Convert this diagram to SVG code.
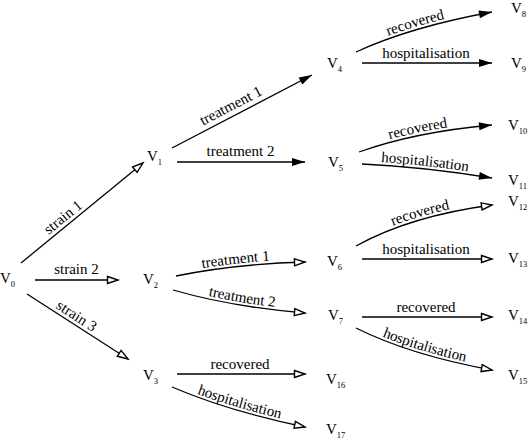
<svg xmlns="http://www.w3.org/2000/svg" width="528" height="442" viewBox="0 0 528 442">
<style>
.n{font-family:"Liberation Serif","Times New Roman",serif;font-size:15px;fill:#000}
.s{font-size:8.5px}
.l{font-family:"Liberation Serif","Times New Roman",serif;font-size:15px;fill:#000}
.c{text-anchor:middle}
.e{fill:none;stroke:#000;stroke-width:1.3}
.h{marker-end:url(#hollow)}
.f{marker-end:url(#solid)}
</style>
<defs>
<marker id="solid" markerUnits="userSpaceOnUse" viewBox="0 0 14 10" markerWidth="14" markerHeight="10" refX="13" refY="5" orient="auto" overflow="visible">
<path d="M0,1 L13,5 L0,9 z" fill="#000"/>
</marker>
<marker id="hollow" markerUnits="userSpaceOnUse" viewBox="0 0 13 10" markerWidth="13" markerHeight="10" refX="11.5" refY="5" orient="auto" overflow="visible">
<path d="M1,1.5 L11.5,5 L1,8.5 z" fill="#fff" stroke="#000" stroke-width="1.4" stroke-linejoin="miter"/>
</marker>
</defs>
<g id="connectors">
<path id="e1" class="e h" d="M21,263 L143,163"/>
<path id="e2" class="e h" d="M35,280 L118,280"/>
<path id="e3" class="e h" d="M27,294 L128,359"/>
<path id="e4" class="e f" d="M172,148 L312,75"/>
<path id="e5" class="e f" d="M177,162 L305,162"/>
<path id="e6" class="e h" d="M176,276 Q235,264 305,262"/>
<path id="e7" class="e h" d="M173,290 Q232,307 305,313"/>
<path id="e8" class="e h" d="M177,374 L305,374"/>
<path id="e9" class="e h" d="M172,387 Q228,411 305,427"/>
<path id="e10" class="e f" d="M356,52 Q410,27 492,12"/>
<path id="e11" class="e f" d="M362,63 L492,63"/>
<path id="e12" class="e f" d="M359,152 Q415,132 492,125"/>
<path id="e13" class="e f" d="M362,164 Q425,167 492,178"/>
<path id="e14" class="e h" d="M356,246 Q410,216 492,205"/>
<path id="e15" class="e h" d="M362,259 L492,259"/>
<path id="e16" class="e h" d="M362,317 L492,317"/>
<path id="e17" class="e h" d="M356,328 Q410,355 492,370"/>
<text class="l c" transform="translate(66,221) rotate(-39.3)">strain 1</text>
<text class="l c" x="76.5" y="274">strain 2</text>
<text class="l c" transform="translate(74,320) rotate(33)">strain 3</text>
<text class="l c" transform="translate(233,110) rotate(-27.5)">treatment 1</text>
<text class="l c" x="240.5" y="156">treatment 2</text>
<text class="l c"><textPath href="#e6" startOffset="47%"><tspan dy="-3">treatment 1</tspan></textPath></text>
<text class="l c"><textPath href="#e7" startOffset="52%"><tspan dy="-3">treatment 2</tspan></textPath></text>
<text class="l c" x="240" y="369">recovered</text>
<text class="l c"><textPath href="#e9" startOffset="50%"><tspan dy="-3">hospitalisation</tspan></textPath></text>
<text class="l c"><textPath href="#e10" startOffset="46%"><tspan dy="-3">recovered</tspan></textPath></text>
<text class="l c" x="426" y="58">hospitalisation</text>
<text class="l c"><textPath href="#e12" startOffset="46%"><tspan dy="-3">recovered</tspan></textPath></text>
<text class="l c"><textPath href="#e13" startOffset="48%"><tspan dy="-3">hospitalisation</tspan></textPath></text>
<text class="l c"><textPath href="#e14" startOffset="50%"><tspan dy="-3">recovered</tspan></textPath></text>
<text class="l c" x="426" y="254">hospitalisation</text>
<text class="l c" x="426" y="312">recovered</text>
<text class="l c"><textPath href="#e17" startOffset="50%"><tspan dy="-3">hospitalisation</tspan></textPath></text>
</g>
<g id="v0"><text class="n" x="0" y="283">V<tspan class="s" dy="4">0</tspan></text></g>
<g id="v1"><text class="n" x="147" y="161">V<tspan class="s" dy="4">1</tspan></text></g>
<g id="v2"><text class="n" x="143" y="284">V<tspan class="s" dy="4">2</tspan></text></g>
<g id="v3"><text class="n" x="143" y="380">V<tspan class="s" dy="4">3</tspan></text></g>
<g id="v4"><text class="n" x="327" y="68">V<tspan class="s" dy="4">4</tspan></text></g>
<g id="v5"><text class="n" x="328" y="167">V<tspan class="s" dy="4">5</tspan></text></g>
<g id="v6"><text class="n" x="327" y="266">V<tspan class="s" dy="4">6</tspan></text></g>
<g id="v7"><text class="n" x="328" y="320">V<tspan class="s" dy="4">7</tspan></text></g>
<g id="v8"><text class="n" x="511" y="13">V<tspan class="s" dy="4">8</tspan></text></g>
<g id="v9"><text class="n" x="511" y="68">V<tspan class="s" dy="4">9</tspan></text></g>
<g id="v10"><text class="n" x="508" y="130">V<tspan class="s" dy="4">10</tspan></text></g>
<g id="v11"><text class="n" x="508" y="185">V<tspan class="s" dy="4">11</tspan></text></g>
<g id="v12"><text class="n" x="508" y="206">V<tspan class="s" dy="4">12</tspan></text></g>
<g id="v13"><text class="n" x="508" y="263">V<tspan class="s" dy="4">13</tspan></text></g>
<g id="v14"><text class="n" x="508" y="320">V<tspan class="s" dy="4">14</tspan></text></g>
<g id="v15"><text class="n" x="508" y="380">V<tspan class="s" dy="4">15</tspan></text></g>
<g id="v16"><text class="n" x="326" y="384">V<tspan class="s" dy="4">16</tspan></text></g>
<g id="v17"><text class="n" x="326" y="434">V<tspan class="s" dy="4">17</tspan></text></g>
</svg>
